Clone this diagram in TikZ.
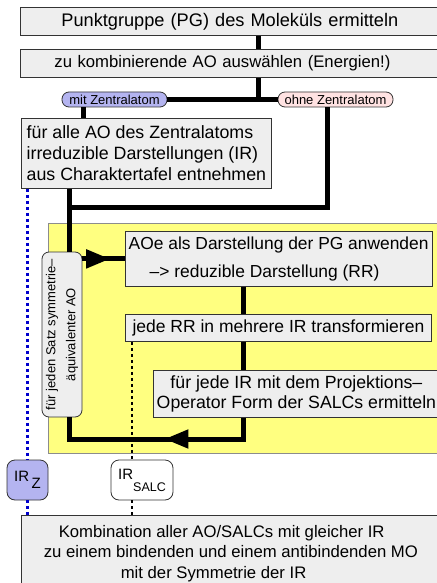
\documentclass[tikz,border=0pt]{standalone}
\usepackage{fontspec}
\setmainfont{Liberation Sans}
\usepackage{xcolor}
\usetikzlibrary{positioning, arrows.meta, decorations.markings}

\definecolor{boxgray}{HTML}{EEEEEE}
\definecolor{zblue}{HTML}{B4B4F0}
\definecolor{rosa}{HTML}{FFE2E2}
\definecolor{loopyellow}{HTML}{FFFF80}
\definecolor{irblue}{HTML}{0000CC}

\begin{document}
\begin{tikzpicture}[
    x=1pt, y=-1pt,
    block/.style={rectangle, draw=black!80, line width=0.8pt, fill=boxgray, anchor=north west, inner ysep=0pt, font=\fontsize{16.7}{20}\selectfont},
    pill/.style={rectangle, rounded corners=7pt, draw=black!80, line width=0.8pt, minimum height=15pt, inner ysep=0pt, inner xsep=2pt, font=\fontsize{13}{15}\selectfont},
    sidebox/.style={rectangle, rounded corners=7pt, draw=black!80, line width=0.8pt, fill=boxgray, rotate=90, align=center, minimum width=165pt, minimum height=40pt, inner sep=1pt, font=\fontsize{13}{20}\selectfont},
    irbox/.style={rectangle, rounded corners=8pt, draw=black!80, line width=0.8pt, minimum height=40pt, inner sep=1pt, font=\fontsize{15}{18}\selectfont},
    link/.style={line width=5pt},
    midarrow/.style={postaction={decorate}, decoration={markings, mark=at position #1 with {\arrow{Triangle[length=24pt, width=18pt]}}}},
    bluedots/.style={irblue, line width=2.8pt, dash pattern=on 3pt off 3pt},
    blackdots/.style={black, line width=2.5pt, dash pattern=on 3pt off 3pt}
]
\path[use as bounding box, fill=white] (0,0) rectangle (436,583);

% Schleife fuer jeden Satz
\draw[draw=black!45, fill=loopyellow, line width=0.8pt] (48,223) rectangle (445,453);

\node[block, minimum height=28pt, text width=338pt, inner xsep=41pt, align=left, font=\fontsize{18.2}{22}\selectfont] (pg) at (20,7) {Punktgruppe (PG) des Moleküls ermitteln};
\node[block, minimum height=28pt, text width=352pt, inner xsep=34pt, align=left] (ao) at (20,49) {zu kombinierende AO auswählen (Energien!)};
\node[pill, fill=zblue, minimum width=105pt] (mit) at (114.5,99.5) {mit Zentralatom};
\node[pill, fill=rosa, minimum width=115pt] (ohne) at (335.5,99.5) {ohne Zentralatom};
\node[block, minimum width=250pt, minimum height=70pt, align=left, font=\fontsize{17.8}{21}\selectfont] (zentral) at (21,118) {für alle AO des Zentralatoms\\irreduzible Darstellungen (IR)\\aus Charaktertafel entnehmen};

\node[sidebox] (satz) at (62,334.5) {für jeden Satz symmetrie–\\äquivalenter AO};
\node[block, minimum width=306pt, minimum height=55pt, align=left, font=\fontsize{17.4}{28}\selectfont] (anw) at (125,231) {AOe als Darstellung der PG anwenden\\\hspace*{21pt}–> reduzible Darstellung (RR)};
\node[block, minimum width=306pt, minimum height=27pt, font=\fontsize{17.5}{21}\selectfont] (rr) at (125,314) {jede RR in mehrere IR transformieren};
\node[block, minimum width=278pt, minimum height=47pt, align=center, font=\fontsize{17.7}{20}\selectfont] (proj) at (153,370) {für jede IR mit dem Projektions–\\Operator Form der SALCs ermitteln};

\node[irbox, fill=zblue, minimum width=41pt] (irz) at (27.5,480) {IR\,\raisebox{-7pt}{Z}};
\node[irbox, fill=white, minimum width=62pt] (irsalc) at (142,480) {IR\raisebox{-12pt}{\fontsize{12.5}{14}\selectfont SALC}};
\node[block, minimum width=419pt, minimum height=76pt, align=left, font=\fontsize{16.7}{20.5}\selectfont] (final) at (21,515) {\hspace*{15pt}Kombination aller AO/SALCs mit gleicher IR\\zu einem bindenden und einem antibindenden MO\\\hspace*{77pt}mit der Symmetrie der IR};

\coordinate (trunk) at (258,0);
\coordinate (mx) at (83,0);
\coordinate (ox) at (327,0);
\coordinate (sx) at (69,0);
\coordinate (cx) at (243,0);
\coordinate (dx) at (132,0);
\coordinate (join) at (69,207);
\coordinate (back) at (69,439);

\draw[link] (pg.south -| trunk) -- (ao.north -| trunk);
\draw[link] (ao.south -| trunk) -- (trunk |- mit.east);
\draw[link] (mit.east) -- (ohne.west);
\draw[link] (mit.south -| mx) -- (zentral.north -| mx);
\draw[link] (ohne.south -| ox) |- (join);
\draw[link] (zentral.south -| sx) -- (satz.east -| sx);
\draw[link, midarrow=0.65] (satz.south |- anw.west) -- (anw.west);
\draw[link] (anw.south -| cx) -- (rr.north -| cx);
\draw[link] (rr.south -| cx) -- (proj.north -| cx);
\draw[link, midarrow=0.46] (proj.south -| cx) |- (back) -- (satz.west -| sx);

\draw[bluedots] (zentral.south -| irz.north) -- (irz.north);
\draw[bluedots] (irz.south) -- (final.north -| irz.south);
\draw[blackdots] (rr.south -| dx) -- (irsalc.north -| dx);
\draw[blackdots] (irsalc.south -| dx) -- (final.north -| dx);

\end{tikzpicture}
\end{document}
